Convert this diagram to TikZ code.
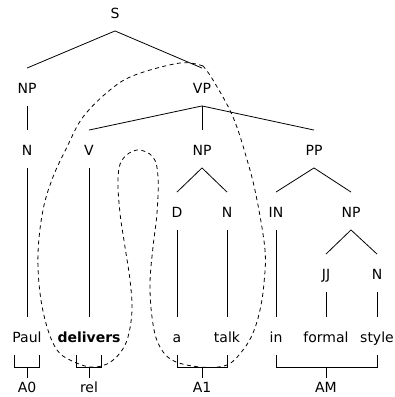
\documentclass[tikz,border=0pt]{standalone}
\usepackage{fontspec}
\setmainfont{DejaVu Sans}
\begin{document}
\begin{tikzpicture}[x=1pt, y=1pt,
    cat/.style={font=\fontsize{14}{16}\selectfont, text height=12.5pt, text depth=0pt, inner xsep=1pt, inner ysep=12.5pt},
    role/.style={font=\fontsize{14}{16}\selectfont, text height=10pt, text depth=0pt, inner xsep=1pt, inner ysep=4pt},
    branch/.style={line width=0.8pt},
    span/.style={line width=0.8pt, dash pattern=on 4pt off 3.5pt}]
    \useasboundingbox (0,0) rectangle (395,397);
    % constituents
    \node[cat] (S) at (115,385) {S};
    \node[cat] (NPa) at (27,310) {NP};
    \node[cat] (VP) at (202,310) {VP};
    \node[cat] (Na) at (27,248) {N};
    \node[cat] (V) at (89,248) {V};
    \node[cat] (NPb) at (202,248) {NP};
    \node[cat] (PP) at (314,248) {PP};
    \node[cat] (D) at (177,186) {D};
    \node[cat] (Nb) at (227,186) {N};
    \node[cat] (IN) at (276,186) {IN};
    \node[cat] (NPc) at (351,186) {NP};
    \node[cat] (JJ) at (326,124) {JJ};
    \node[cat] (Nc) at (377,124) {N};
    % words
    \node[cat] (wPaul) at (27,61) {Paul};
    \node[cat] (wDelivers) at (89,61) {\textbf{delivers}};
    \node[cat] (wA) at (177,61) {a};
    \node[cat] (wTalk) at (227,61) {talk};
    \node[cat] (wIn) at (276,61) {in};
    \node[cat] (wFormal) at (326,61) {formal};
    \node[cat] (wStyle) at (377,61) {style};
    % roles
    \node[role] (A0) at (27,10) {A0};
    \node[role] (rel) at (89,10) {rel};
    \node[role] (A1) at (202,10) {A1};
    \node[role] (AM) at (326,10) {AM};

    \draw[branch] (S.south) -- (NPa.north);
    \draw[branch] (S.south) -- (VP.north);
    \draw[branch] (NPa.south) -- (Na.north);
    \draw[branch] (VP.south) -- (V.north);
    \draw[branch] (VP.south) -- (NPb.north);
    \draw[branch] (VP.south) -- (PP.north);
    \draw[branch] (NPb.south) -- (D.north);
    \draw[branch] (NPb.south) -- (Nb.north);
    \draw[branch] (PP.south) -- (IN.north);
    \draw[branch] (PP.south) -- (NPc.north);
    \draw[branch] (NPc.south) -- (JJ.north);
    \draw[branch] (NPc.south) -- (Nc.north);
    \draw[branch] (Na.south) -- (wPaul.north);
    \draw[branch] (V.south) -- (wDelivers.north);
    \draw[branch] (D.south) -- (wA.north);
    \draw[branch] (Nb.south) -- (wTalk.north);
    \draw[branch] (IN.south) -- (wIn.north);
    \draw[branch] (JJ.south) -- (wFormal.north);
    \draw[branch] (Nc.south) -- (wStyle.north);

    % brackets under the words
    \draw[branch] ([xshift=-12.5pt]wPaul.south) -- ++(0,-12) coordinate (bA0) -| ([xshift=12.5pt]wPaul.south);
    \draw[branch] ([xshift=-12.5pt]wDelivers.south) -- ++(0,-12) coordinate (bRel) -| ([xshift=12.5pt]wDelivers.south);
    \draw[branch] (wA.south) -- ++(0,-12) coordinate (bA1) -| (wTalk.south);
    \draw[branch] (wIn.south) -- ++(0,-12) coordinate (bAM) -| (wStyle.south);
    \draw[branch] (A0) -- (A0 |- bA0);
    \draw[branch] (rel) -- (rel |- bRel);
    \draw[branch] (A1) -- (A1 |- bA1);
    \draw[branch] (AM) -- (AM |- bAM);

    % dashed region
    \draw[span] plot[smooth, tension=0.6] coordinates {
        (203,331) (180,334) (135,322) (110,307) (83,280) (67,250) (53,220)
        (43,187) (38,144) (40,104) (47,70) (57,47) (70,37) (90,30) (107,33)
        (120,44) (128,60) (132,87) (130,117) (125,150) (120,184) (118,217)
        (122,237) (137,247) (153,240) (158,220) (157,184) (153,150) (150,114)
        (152,80) (158,54) (172,37) (200,30) (227,32) (243,47) (253,64)
        (260,87) (264,114) (265,147) (257,197) (248,234) (233,280) (213,317)
        (203,331)};
\end{tikzpicture}
\end{document}
